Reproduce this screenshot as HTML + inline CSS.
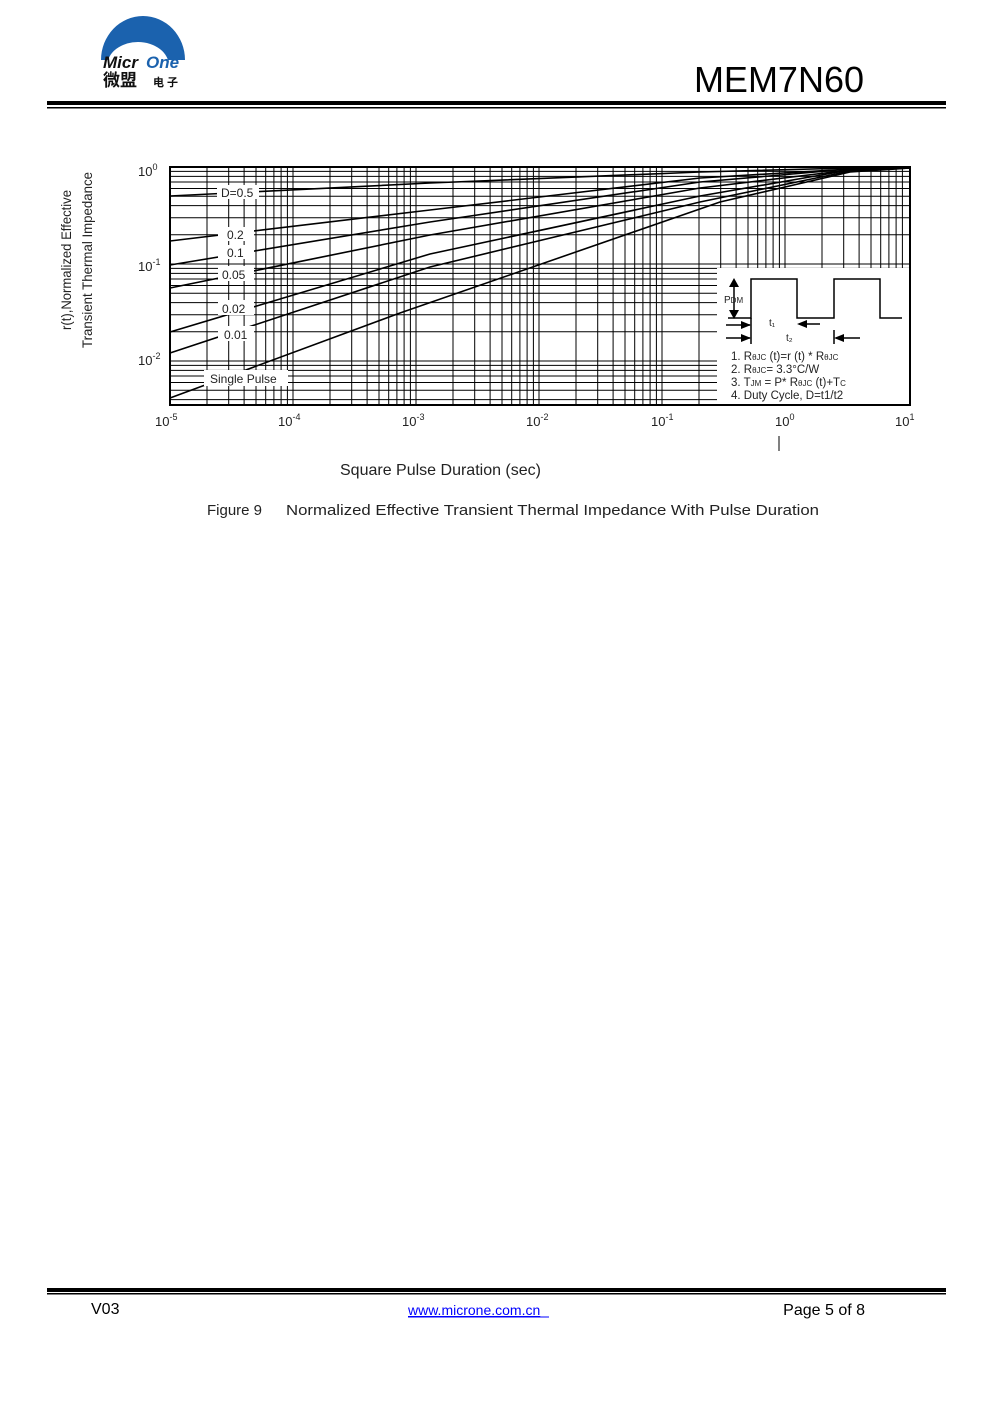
<!DOCTYPE html>
<html><head><meta charset="utf-8"><style>
body{margin:0;background:#fff;}
svg text{font-family:"Liberation Sans","Noto Sans CJK SC",sans-serif;}
</style></head><body>
<svg width="991" height="1403" viewBox="0 0 991 1403" xmlns="http://www.w3.org/2000/svg">
<!-- logo -->
<path d="M101,60 A42,44 0 0 1 185,60 Z" fill="#1b62ae"/>
<ellipse cx="138" cy="66" rx="31" ry="24" fill="#fff"/>
<text x="103" y="68" font-size="17" font-weight="bold" font-style="italic" fill="#111">Micr</text>
<text x="146" y="68" font-size="17" font-weight="bold" font-style="italic" fill="#1b62ae">One</text>
<text x="103" y="86" font-size="17" font-weight="bold" fill="#111">微盟</text>
<text x="153" y="86" font-size="11" font-weight="bold" fill="#111">电 子</text>
<text x="864" y="92" font-size="36" text-anchor="end" fill="#000">MEM7N60</text>
<rect x="47" y="101" width="899" height="4" fill="#000"/>
<rect x="47" y="107" width="899" height="1.5" fill="#000"/>

<!-- chart grid -->
<g id="grid" stroke="#000" stroke-width="1" fill="none"></g>
<rect x="717" y="268" width="193" height="137" fill="#fff"/>
<g id="curves" stroke="#000" stroke-width="1.6" fill="none">
<polyline points="170,196 430,183 700,172 850,168 910,168"/>
<polyline points="170,241 430,210 700,178 850,169 910,168"/>
<polyline points="170,265 430,222 700,182 850,169 910,168"/>
<polyline points="170,288 430,235 700,188 850,170 910,168"/>
<polyline points="170,332 430,254 700,196 850,170 910,168"/>
<polyline points="170,353 430,267 700,202 850,171 910,168"/>
<polyline points="170,398 400,313 720,202 850,172 910,168"/>
</g>
<rect x="170" y="167" width="740" height="238" fill="none" stroke="#000" stroke-width="2"/>
<!-- labels on curves -->
<g font-size="12" fill="#222">
<rect x="217" y="185" width="42" height="14" fill="#fff"/><text x="221" y="197">D=0.5</text>
<rect x="218" y="227" width="36" height="14" fill="#fff"/><text x="227" y="239">0.2</text>
<rect x="218" y="245" width="36" height="14" fill="#fff"/><text x="227" y="257">0.1</text>
<rect x="218" y="266" width="36" height="15" fill="#fff"/><text x="222" y="279">0.05</text>
<rect x="218" y="300" width="36" height="15" fill="#fff"/><text x="222" y="313">0.02</text>
<rect x="218" y="326" width="36" height="15" fill="#fff"/><text x="224" y="339">0.01</text>
<rect x="204" y="370" width="84" height="16" fill="#fff"/><text x="210" y="383">Single Pulse</text>
</g>
<!-- inset -->
<g stroke="#000" stroke-width="1.5" fill="none">
<polyline points="728,318 751,318 751,279 797,279 797,318 834,318 834,279 880,279 880,318 902,318"/>
<line x1="734" y1="281" x2="734" y2="316"/>
<line x1="726" y1="338" x2="750" y2="338"/><line x1="726" y1="325" x2="750" y2="325"/>
<line x1="799" y1="324" x2="820" y2="324"/><line x1="836" y1="338" x2="860" y2="338"/>
<line x1="751" y1="318" x2="751" y2="344"/><line x1="834" y1="330" x2="834" y2="344"/>
</g>
<g fill="#000">
<polygon points="734,278 729,287 739,287"/><polygon points="734,319 729,310 739,310"/>
<polygon points="751,325 741,321 741,329"/><polygon points="751,338 741,334 741,342"/>
<polygon points="797,324 807,320 807,328"/><polygon points="834,338 844,334 844,342"/>
</g>
<g font-size="11.5" fill="#222">
<text x="724" y="303" font-size="10">P<tspan font-size="8">DM</tspan></text>
<text x="769" y="326" font-size="10">t₁</text><text x="786" y="341" font-size="10">t₂</text>
<text x="731" y="360">1. R<tspan font-size="8">θJC</tspan> (t)=r (t) * R<tspan font-size="8">θJC</tspan></text>
<text x="731" y="373">2. R<tspan font-size="8">θJC</tspan>= 3.3°C/W</text>
<text x="731" y="386">3. T<tspan font-size="8">JM</tspan> = P* R<tspan font-size="8">θJC</tspan> (t)+T<tspan font-size="8">C</tspan></text>
<text x="731" y="399">4. Duty Cycle, D=t1/t2</text>
</g>
<!-- axis labels -->
<g font-size="13" fill="#222">
<text x="138" y="176">10<tspan dy="-6" font-size="9">0</tspan></text>
<text x="138" y="271">10<tspan dy="-6" font-size="9">-1</tspan></text>
<text x="138" y="365">10<tspan dy="-6" font-size="9">-2</tspan></text>
<text x="155" y="426">10<tspan dy="-6" font-size="9">-5</tspan></text>
<text x="278" y="426">10<tspan dy="-6" font-size="9">-4</tspan></text>
<text x="402" y="426">10<tspan dy="-6" font-size="9">-3</tspan></text>
<text x="526" y="426">10<tspan dy="-6" font-size="9">-2</tspan></text>
<text x="651" y="426">10<tspan dy="-6" font-size="9">-1</tspan></text>
<text x="775" y="426">10<tspan dy="-6" font-size="9">0</tspan></text>
<text x="895" y="426">10<tspan dy="-6" font-size="9">1</tspan></text>
</g>
<line x1="779" y1="436" x2="779" y2="451" stroke="#000"/>
<text x="340" y="475" font-size="16" fill="#222">Square Pulse Duration (sec)</text>
<text transform="translate(71,330) rotate(-90)" font-size="14" fill="#222" textLength="140" lengthAdjust="spacingAndGlyphs">r(t),Normalized Effective</text>
<text transform="translate(92,348) rotate(-90)" font-size="14" fill="#222" textLength="176" lengthAdjust="spacingAndGlyphs">Transient Thermal Impedance</text>
<text x="207" y="515" font-size="15" fill="#222">Figure 9</text>
<text x="286" y="515" font-size="15" fill="#222" textLength="533" lengthAdjust="spacingAndGlyphs">Normalized Effective Transient Thermal Impedance With Pulse Duration</text>

<!-- footer -->
<rect x="47" y="1288" width="899" height="4" fill="#000"/>
<rect x="47" y="1293" width="899" height="1.5" fill="#000"/>
<text x="91" y="1314" font-size="16" fill="#000">V03</text>
<text x="408" y="1315" font-size="14" fill="#00f" text-decoration="underline">www.microne.com.cn</text>
<line x1="408" y1="1317" x2="549" y2="1317" stroke="#00f"/>
<text x="865" y="1315" font-size="16" fill="#000" text-anchor="end">Page 5 of 8</text>
</svg>
<script>
(function(){
var g=document.getElementById('grid'),s='';
var x0=170,dx=123,y0=167,dy=97;
for(var d=0;d<6;d++)for(var k=1;k<10;k++){var x=x0+dx*(d+Math.log10(k));s+='<line x1="'+x.toFixed(1)+'" y1="167" x2="'+x.toFixed(1)+'" y2="405"/>';}
for(var d=0;d<3;d++)for(var k=1;k<10;k++){var y=y0+dy*(d+1-Math.log10(k));if(y<=405&&y>=167)s+='<line x1="170" y1="'+y.toFixed(1)+'" x2="910" y2="'+y.toFixed(1)+'"/>';}
g.innerHTML=s;
})();
</script>
</body></html>
